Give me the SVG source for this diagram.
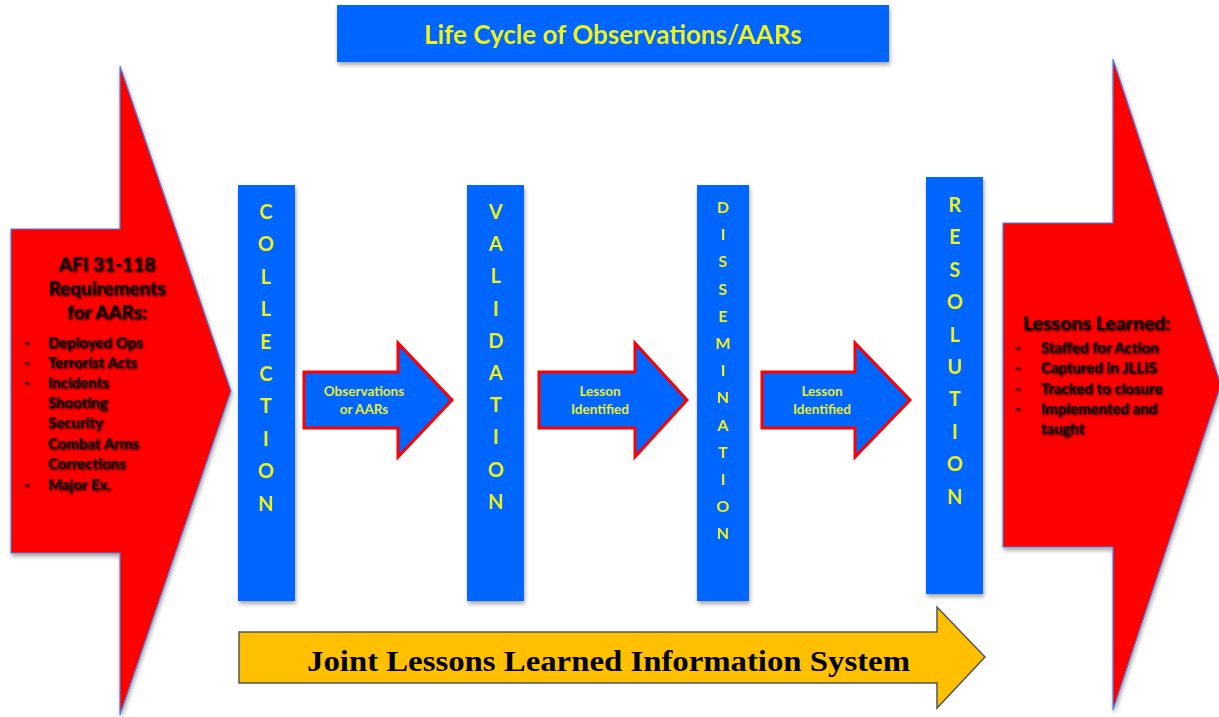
<svg xmlns="http://www.w3.org/2000/svg" width="1219" height="717" viewBox="0 0 1219 717">
<defs>
<filter id="sh" x="-10%" y="-10%" width="130%" height="130%">
<feGaussianBlur in="SourceAlpha" stdDeviation="2"/>
<feOffset dx="1" dy="3" result="b"/>
<feComponentTransfer><feFuncA type="linear" slope="0.35"/></feComponentTransfer>
<feMerge><feMergeNode/><feMergeNode in="SourceGraphic"/></feMerge>
</filter>
<filter id="tsh" x="-5%" y="-20%" width="110%" height="140%">
<feGaussianBlur in="SourceAlpha" stdDeviation="0.8"/>
<feOffset dx="0.5" dy="1" result="b"/>
<feMerge><feMergeNode/><feMergeNode in="SourceGraphic"/></feMerge>
</filter>
</defs>
<style>
.bar{fill:#0066FF;}
.big{fill:#FF0000;stroke:#4F7FE0;stroke-width:1.2;}
.small{fill:#0066FF;stroke:#FF0000;stroke-width:3;stroke-linejoin:miter;}
.yel{fill:#FFC000;stroke:#555;stroke-width:1.5;}
.ltr{font-family:Lato,"Open Sans",sans-serif;font-weight:bold;fill:#EEF21C;text-anchor:middle;}
.lbl{font-family:Lato,"Open Sans",sans-serif;font-weight:bold;fill:#E8EE30;font-size:13.5px;text-anchor:middle;}
.dark{font-family:Lato,"Open Sans",sans-serif;font-weight:bold;fill:#1a0000;}
.title{font-family:Lato,"Open Sans",sans-serif;font-weight:bold;fill:#EEF21C;font-size:26px;text-anchor:middle;}
.jl{font-family:"Liberation Serif","Times New Roman",serif;font-weight:bold;fill:#000;font-size:30px;}
</style>
<rect width="1219" height="717" fill="#fff"/>

<g id="title" filter="url(#sh)">
<rect x="337" y="5" width="552" height="57" class="bar"/>
<text x="613" y="44" class="title">Life Cycle of Observations/AARs</text>
</g>

<g id="requirements">
<polygon class="big" filter="url(#sh)" points="11,229 120,229 120,66 231,391 120,715 120,553 11,553"/>
<g class="dark" filter="url(#tsh)">
<text x="107" y="271" font-size="19" text-anchor="middle">AFI 31-118</text>
<text x="107" y="295" font-size="19" text-anchor="middle">Requirements</text>
<text x="107" y="319" font-size="19" text-anchor="middle">for AARs:</text>
<g font-size="15">
<text x="24" y="348">-</text><text x="48" y="348">Deployed Ops</text>
<text x="24" y="368">-</text><text x="48" y="368">Terrorist Acts</text>
<text x="24" y="388">-</text><text x="48" y="388">Incidents</text>
<text x="48" y="408">Shooting</text>
<text x="48" y="428">Security</text>
<text x="48" y="449">Combat Arms</text>
<text x="48" y="469">Corrections</text>
<text x="24" y="490">-</text><text x="48" y="490">Major Ex.</text>
</g>
</g>
</g>

<g id="collection" filter="url(#sh)">
<rect x="238" y="185" width="57" height="416" class="bar"/>
<g class="ltr" font-size="20">
<text x="266" y="219">C</text><text x="266" y="251.4">O</text><text x="266" y="283.8">L</text><text x="266" y="316.2">L</text><text x="266" y="348.6">E</text><text x="266" y="381">C</text><text x="266" y="413.4">T</text><text x="266" y="445.8">I</text><text x="266" y="478.2">O</text><text x="266" y="510.6">N</text>
</g>
</g>

<g id="validation" filter="url(#sh)">
<rect x="467" y="185" width="57" height="416" class="bar"/>
<g class="ltr" font-size="20">
<text x="496" y="219">V</text><text x="496" y="251.2">A</text><text x="496" y="283.4">L</text><text x="496" y="315.6">I</text><text x="496" y="347.8">D</text><text x="496" y="380">A</text><text x="496" y="412.2">T</text><text x="496" y="444.4">I</text><text x="496" y="476.6">O</text><text x="496" y="508.8">N</text>
</g>
</g>

<g id="dissemination" filter="url(#sh)">
<rect x="697" y="185" width="52" height="416" class="bar"/>
<g class="ltr" font-size="16">
<text x="723" y="213">D</text><text x="723" y="240.2">I</text><text x="723" y="267.4">S</text><text x="723" y="294.6">S</text><text x="723" y="321.8">E</text><text x="723" y="349">M</text><text x="723" y="376.2">I</text><text x="723" y="403.4">N</text><text x="723" y="430.6">A</text><text x="723" y="457.8">T</text><text x="723" y="485">I</text><text x="723" y="512.2">O</text><text x="723" y="539.4">N</text>
</g>
</g>

<g id="resolution" filter="url(#sh)">
<rect x="926" y="177" width="57" height="417" class="bar"/>
<g class="ltr" font-size="20">
<text x="955" y="212">R</text><text x="955" y="244.4">E</text><text x="955" y="276.8">S</text><text x="955" y="309.2">O</text><text x="955" y="341.6">L</text><text x="955" y="374">U</text><text x="955" y="406.4">T</text><text x="955" y="438.8">I</text><text x="955" y="471.2">O</text><text x="955" y="503.6">N</text>
</g>
</g>

<g id="lessons-learned">
<polygon class="big" filter="url(#sh)" points="1003,223 1113,223 1113,59 1221,385 1113,710 1113,547 1003,547"/>
<g class="dark" filter="url(#tsh)">
<text x="1023" y="330" font-size="19.5">Lessons Learned:</text>
<g font-size="15">
<text x="1015" y="353">-</text><text x="1041" y="353">Staffed for Action</text>
<text x="1015" y="373">-</text><text x="1041" y="373">Captured in JLLIS</text>
<text x="1015" y="394">-</text><text x="1041" y="394">Tracked to closure</text>
<text x="1015" y="414">-</text><text x="1041" y="414">Implemented and</text>
<text x="1041" y="434">taught</text>
</g>
</g>
</g>

<g id="connectors">
<g id="arrow-observations">
<polygon class="small" points="304,372 398,372 398,343 452,400 398,457 398,428 304,428"/>
<text class="lbl" x="364" y="396">Observations</text>
<text class="lbl" x="364" y="414">or AARs</text>
</g>
<g id="arrow-lesson-1">
<polygon class="small" points="539,372 635,372 635,343 687,400 635,457 635,428 539,428"/>
<text class="lbl" x="600" y="396">Lesson</text>
<text class="lbl" x="600" y="414">Identified</text>
</g>
<g id="arrow-lesson-2">
<polygon class="small" points="762,372 855,372 855,343 910,400 855,457 855,428 762,428"/>
<text class="lbl" x="822" y="396">Lesson</text>
<text class="lbl" x="822" y="414">Identified</text>
</g>
</g>

<g id="jllis">
<polygon class="yel" points="239,632 937,632 937,607 985,657 937,708 937,683 239,683"/>
<text class="jl" x="307" y="671" textLength="603" lengthAdjust="spacingAndGlyphs">Joint Lessons Learned Information System</text>
</g>
</svg>
